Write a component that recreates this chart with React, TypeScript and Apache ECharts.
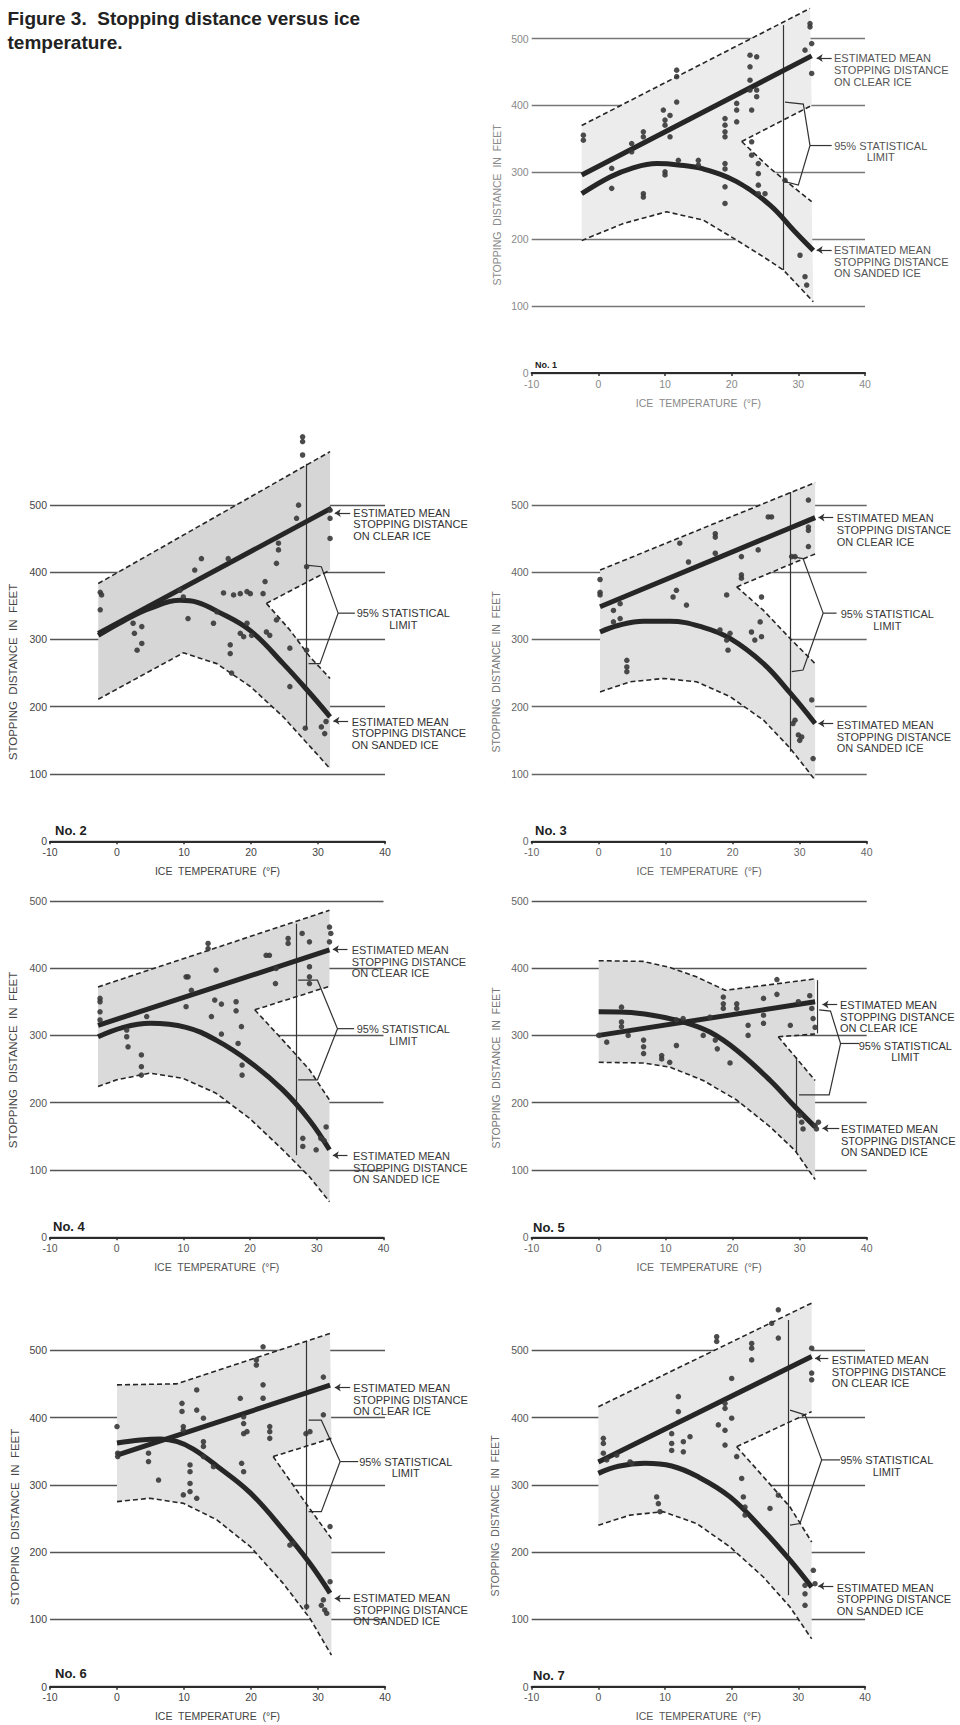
import React, { useEffect, useRef } from "react";
import * as echarts from "echarts";

type Pt = [number, number];

// ---------------- axis ticks / labels ----------------
const xMin = -10;
const xMax = 40;
const xStep = 10;
const yMin = 0;
const yMax = 500;
const yStep = 100;
const titleLines = ["Figure 3.  Stopping distance versus ice", "temperature."];
const panelNames = ["No. 1", "No. 2", "No. 3", "No. 4", "No. 5", "No. 6", "No. 7"];
const xAxisTitle = "ICE  TEMPERATURE  (°F)";
const yAxisTitle = "STOPPING  DISTANCE  IN  FEET";
const clearLabel = "ESTIMATED MEAN\nSTOPPING DISTANCE\nON CLEAR ICE";
const sandLabel = "ESTIMATED MEAN\nSTOPPING DISTANCE\nON SANDED ICE";
const statLabel = "95% STATISTICAL\nLIMIT";

// ---------------- panel 1 ----------------
const p1ClearMean: Pt[] = [[-2.5, 296], [32, 474]];
const p1SandMean: Pt[] = [[-2.5, 268], [1.75, 293], [5, 306], [8.75, 313], [12, 311], [15.75, 305], [20.75, 286], [25.75, 251], [29.5, 211], [32.25, 183]];
const p1Upper: Pt[] = [[-2.5, 370], [31.75, 545]];
const p1Lower: Pt[] = [[-2.5, 198], [3.75, 223.5], [10.25, 241], [15.75, 228.5], [20.75, 198.6], [24.75, 173.7], [27.75, 154], [32.25, 106.5]];
const p1WedgeTop: Pt[] = [[21.5, 346], [32, 400]];
const p1WedgeBot: Pt[] = [[21.5, 346], [25.75, 306], [32, 256]];
const p1Points: Pt[] = [[-2.25, 355.5], [-2.25, 348], [2, 306], [2, 276], [5, 343], [5, 330.6], [6.75, 360.5], [6.75, 353], [6.75, 268], [6.75, 263], [9.75, 393], [10, 378], [10, 370.5], [10.75, 385], [10.75, 353], [10, 300.7], [10, 296], [11.75, 452.7], [11.75, 443], [11.75, 405], [12, 318], [15, 318], [15, 310.7], [19, 380.4], [19, 370.5], [19, 360.5], [19, 353], [19, 313], [19, 305], [19, 278.3], [19, 253.4], [20.75, 403], [20.75, 393], [20.75, 375.5], [22.75, 475], [22.75, 457.7], [22.75, 437.7], [22.75, 423], [23, 393], [23, 345.6], [23, 325.6], [23.75, 472.6], [23.75, 423], [23.75, 413], [24, 313], [24, 298], [24, 280.8], [24, 268], [25, 268], [28, 288], [30.25, 176], [31, 482.6], [31, 144], [31.25, 131.4], [31.75, 522.4], [31.75, 517.4], [32, 492.5], [32, 447.7]];
const p1VLines: Pt[][] = [[[27.75, 520], [27.75, 154]]];
const p1Bracket: Pt[][] = [[[28, 405], [30.75, 402], [31.75, 340], [30, 281], [28, 286]], [[31.75, 340], [35, 340]]];
const p1Arrows: Pt[][] = [[[35, 471], [32.75, 471]], [[35, 184], [32.75, 184]]];

// ---------------- panel 2 ----------------
const p2ClearMean: Pt[] = [[-2.8, 309], [32, 495]];
const p2SandMean: Pt[] = [[-2.8, 306], [0.9, 327], [4.9, 346], [9.4, 358], [12, 355], [14.9, 342], [19.9, 313], [24.8, 264], [28.8, 220], [31.8, 185]];
const p2Upper: Pt[] = [[-2.8, 383], [31.8, 579]];
const p2Lower: Pt[] = [[-2.8, 211], [9.9, 280], [14.9, 264], [19.9, 230], [24.8, 185], [28.8, 141], [31.8, 108]];
const p2WedgeTop: Pt[] = [[22.3, 353.5], [31.8, 403]];
const p2WedgeBot: Pt[] = [[22.3, 353.5], [25.8, 314], [28.8, 274], [31.8, 242]];
const p2Points: Pt[] = [[-2.5, 370], [-2.3, 366], [-2.5, 344], [2.4, 324], [2.6, 309], [3, 284], [3.7, 294], [3.7, 319], [9.4, 373], [9.9, 363], [10.6, 331], [11.6, 403], [12.6, 420], [14.4, 324], [14.9, 341], [16.6, 420], [16.9, 292], [16.9, 279], [17.1, 250], [15.9, 369], [17.4, 366], [18.4, 368], [19.4, 371], [19.9, 368], [18.4, 309], [18.9, 304], [19.4, 324], [20.1, 306], [22.1, 386], [21.8, 368], [22.3, 311], [22.8, 306], [23.8, 329], [23.8, 413], [24.1, 433], [24.1, 443], [25.8, 287], [25.8, 230], [26.8, 480], [27.1, 499.5], [27.7, 574], [27.7, 594], [27.7, 601], [28.3, 408], [28.3, 284], [28.1, 168], [30.5, 170], [31, 160], [31.2, 178], [31.8, 480], [31.8, 450], [31.8, 492]];
const p2VLines: Pt[][] = [[[28.2, 561], [28.2, 168]]];
const p2Bracket: Pt[][] = [[[28.6, 410], [30.5, 408], [33, 339], [30.3, 264], [28.6, 264]], [[33, 339], [35.5, 339]]];
const p2Arrows: Pt[][] = [[[34.8, 488], [32.5, 488]], [[34.5, 179], [32.3, 179]]];

// ---------------- panel 3 ----------------
const p3ClearMean: Pt[] = [[0.2, 348.5], [32.3, 481]];
const p3SandMean: Pt[] = [[0.2, 311], [3, 321], [6.7, 327], [10.6, 327], [15.6, 318], [19.6, 301.5], [24.6, 264], [28.6, 220], [32.3, 175]];
const p3Upper: Pt[] = [[0.2, 403], [32.3, 533]];
const p3Lower: Pt[] = [[0.2, 222], [4.7, 237], [9.7, 242], [14.6, 237], [19.6, 215], [24.6, 180], [28.6, 138], [32.3, 91]];
const p3WedgeTop: Pt[] = [[20.6, 378], [32.3, 427]];
const p3WedgeBot: Pt[] = [[20.6, 378], [24.6, 343], [28.6, 301], [32.3, 264]];
const p3Points: Pt[] = [[0.2, 389], [0.2, 370], [0.2, 366], [2.2, 343], [3.2, 353], [2.2, 326], [3.2, 331], [4.2, 269], [4.2, 259], [4.2, 252], [11.1, 363], [11.6, 373], [12.1, 443], [13.4, 415], [13.1, 351], [17.4, 457], [17.4, 452], [17.4, 428], [19.1, 366], [18.1, 314], [19.1, 299], [19.3, 284], [19.6, 309], [21.3, 423], [21.3, 396], [21.3, 391], [22.8, 311], [23.3, 299], [24.1, 326], [24.3, 304], [23.8, 433], [24.3, 363], [25.3, 482], [25.8, 482], [28.8, 423], [29.3, 423], [29, 175], [29.3, 180], [29.8, 158], [30, 150], [30.3, 155], [31.3, 507], [31.3, 467], [31.3, 462], [31.3, 438], [31.8, 210], [32, 123]];
const p3VLines: Pt[][] = [[[28.6, 519], [28.6, 133]]];
const p3Bracket: Pt[][] = [[[28.8, 423], [30.5, 420], [33.5, 339], [30.5, 254.5], [28.8, 252]], [[33.5, 339], [35.5, 339]]];
const p3Arrows: Pt[][] = [[[35, 481], [32.8, 481]], [[35, 175], [32.8, 175]]];

// ---------------- panel 4 ----------------
const p4ClearMean: Pt[] = [[-2.8, 315], [31.9, 427]];
const p4SandMean: Pt[] = [[-2.8, 298], [1, 312], [5, 318], [10.4, 312], [14.9, 293], [19.9, 261], [24.9, 219], [28.9, 174], [31.9, 130]];
const p4Upper: Pt[] = [[-2.8, 372], [31.9, 486]];
const p4Lower: Pt[] = [[-2.8, 224], [0, 234], [5, 244], [10, 236], [14.9, 214], [19.9, 177], [24.9, 130], [28.9, 90], [31.9, 53]];
const p4WedgeTop: Pt[] = [[20.7, 338], [31.9, 373]];
const p4WedgeBot: Pt[] = [[20.7, 338], [24.9, 293], [28.9, 249], [31.9, 204]];
const p4Points: Pt[] = [[-2.5, 355], [-2.5, 350], [-2.5, 335], [-2.5, 323], [1.5, 308], [1.7, 283], [1.5, 298], [3.7, 271], [3.7, 253.5], [3.7, 241], [4.5, 328], [10.4, 387], [10.7, 387], [10.4, 342.6], [11.2, 367], [13.7, 436.6], [13.7, 429], [14.9, 397], [14.7, 352.5], [15.7, 346.5], [14.2, 328], [15.7, 302], [17.9, 350], [17.9, 336.6], [18.7, 313], [18.2, 288], [18.8, 256], [18.8, 241], [22.4, 419], [22.9, 419], [23.8, 377], [23.9, 399.5], [25.7, 444], [25.7, 436.6], [27.8, 451.5], [28.9, 439], [27.9, 147], [27.9, 135], [28.9, 402], [28.9, 387], [28.9, 377], [29.9, 130], [30.6, 147], [31.1, 143.5], [31.4, 164], [31.9, 461], [32.1, 451.5], [31.9, 439]];
const p4VLines: Pt[][] = [[[26.9, 466], [26.9, 122]]];
const p4Bracket: Pt[][] = [[[27.2, 382], [30.1, 382], [33.1, 310], [30.1, 234], [27.2, 234]], [[33.1, 310], [35.6, 310]]];
const p4Arrows: Pt[][] = [[[34.6, 428], [32.4, 428]], [[34.6, 122], [32.4, 122]]];

// ---------------- panel 5 ----------------
const p5ClearMean: Pt[] = [[0, 300], [32.3, 350]];
const p5SandMean: Pt[] = [[0, 335], [4, 334.5], [8, 330], [12.6, 320], [16.6, 305], [20.6, 278], [25.6, 233], [29.3, 194], [32.3, 164]];
const p5Upper: Pt[] = [[0, 411], [6.6, 410], [10.6, 401], [14.6, 387], [18.9, 367], [32.3, 384]];
const p5Lower: Pt[] = [[0, 260], [6.6, 259], [10.6, 253], [15.6, 233], [20.6, 204], [25.6, 164], [29.3, 129], [32.3, 86]];
const p5WedgeTop: Pt[] = [[26.8, 298], [32.3, 302]];
const p5WedgeBot: Pt[] = [[26.8, 298], [32.3, 233]];
const p5Points: Pt[] = [[0, 300], [1.2, 290], [3.4, 342], [3.4, 320], [3.4, 313], [4.4, 300], [6.7, 293], [6.7, 283], [6.7, 273], [9.4, 270], [9.4, 265], [10.6, 260], [11.6, 285], [11.6, 323], [12.6, 325], [15.6, 300], [16.6, 327], [17.4, 293], [17.7, 280], [18.6, 357], [18.6, 347], [18.6, 340], [19.6, 259], [20.6, 347], [20.6, 340], [22.3, 315], [22.3, 300], [24.6, 355], [24.6, 318], [24.6, 330], [26.6, 383], [26.6, 361], [28.6, 315], [29.8, 350], [30, 181], [30.3, 171], [30.5, 161], [31.5, 359], [31.8, 340], [32, 325], [32.3, 312], [32.3, 166], [32.5, 161], [32.8, 171]];
const p5VLines: Pt[][] = [[[29.55, 268], [29.55, 125]], [[32.6, 382], [32.6, 303]]];
const p5Bracket: Pt[][] = [[[32.9, 338], [34.6, 336], [36.1, 288], [34.4, 211.5], [29.9, 211.5]], [[36.1, 288], [38.9, 288]]];
const p5Arrows: Pt[][] = [[[35.6, 346], [33.4, 346]], [[35.9, 162], [33.4, 162]]];

// ---------------- panel 6 ----------------
const p6ClearMean: Pt[] = [[0, 344], [31.8, 448]];
const p6SandMean: Pt[] = [[0, 362], [3.5, 366.5], [6.5, 368], [9, 364], [11.4, 353], [14.9, 328], [19.9, 288], [24.8, 233], [28.8, 183], [31.8, 139]];
const p6Upper: Pt[] = [[0, 448.5], [8.9, 450], [31.8, 525]];
const p6Lower: Pt[] = [[0, 275], [4.9, 280], [9.9, 272.5], [14.9, 248], [19.9, 208], [24.8, 153.5], [28.8, 101.5], [32, 47]];
const p6WedgeTop: Pt[] = [[23.3, 342], [32, 369]];
const p6WedgeBot: Pt[] = [[23.3, 342], [27.3, 285], [32, 220]];
const p6Points: Pt[] = [[0, 386.5], [0.1, 347], [0.1, 342], [4.7, 347], [4.7, 334.5], [6.2, 307], [9.7, 421], [9.7, 409], [9.9, 386.5], [9.9, 381], [9.9, 285], [10.9, 329.5], [10.9, 319.5], [10.9, 302], [10.9, 290], [11.9, 280], [11.9, 441], [11.9, 411], [12.9, 399], [12.9, 364], [12.9, 357], [12.9, 342], [14.4, 327], [18.4, 428.5], [18.9, 401], [18.9, 391], [18.9, 376], [19.4, 379], [18.6, 332], [18.9, 319.5], [20.8, 485.6], [20.8, 478], [21.8, 505], [21.8, 448.5], [21.8, 428.6], [22.8, 386.5], [22.8, 379], [22.8, 369], [25.8, 210.5], [26.3, 213], [28.2, 376], [28.8, 379], [28.3, 119], [30.5, 121], [30.8, 129], [31, 114], [31.3, 109], [30.8, 404], [30.8, 460], [31.8, 156], [31.8, 238]];
const p6VLines: Pt[][] = [[[28.2, 513], [28.2, 114]]];
const p6Bracket: Pt[][] = [[[28.6, 396], [30.5, 396], [33.3, 334.5], [30.5, 260], [28.6, 260]], [[33.3, 334.5], [36, 334.5]]];
const p6Arrows: Pt[][] = [[[34.8, 444.5], [32.5, 444.5]], [[34.8, 131], [32.5, 131]]];

// ---------------- panel 7 ----------------
const p7ClearMean: Pt[] = [[0, 334], [32, 490.5]];
const p7SandMean: Pt[] = [[0, 317], [3, 327.5], [7, 332], [11, 328], [14.75, 313], [19.75, 282], [24.75, 232.5], [28.75, 188], [32, 148]];
const p7Upper: Pt[] = [[0, 416], [32, 570]];
const p7Lower: Pt[] = [[0, 240], [4.75, 255], [9.75, 260], [14.75, 242.5], [19.75, 207.7], [24.75, 163], [28.75, 118.4], [32, 71]];
const p7WedgeTop: Pt[] = [[20.75, 356.6], [32, 408.7]];
const p7WedgeBot: Pt[] = [[20.75, 356.6], [24.75, 312], [28.75, 267], [32, 215]];
const p7Points: Pt[] = [[0.75, 369], [0.75, 361.5], [0.75, 347], [1.25, 337], [2.75, 344], [4.75, 334], [5, 332], [8.75, 282], [9, 272], [9.25, 260], [11, 376], [11, 361.5], [11, 351], [12, 431], [12, 408.7], [12.75, 364], [12.75, 349], [13.75, 371.5], [17.75, 520], [17.75, 513], [18, 389], [19, 381], [19, 359], [19, 421], [19, 413.6], [20, 458], [20, 399], [20.75, 342], [21.5, 309.5], [21.75, 282], [22, 267], [22, 255], [23, 510], [23, 503], [23, 485.6], [25.75, 264.8], [26, 540], [27, 560], [27, 518], [27, 284.6], [31, 150.6], [31, 138], [31, 121], [32, 503], [32, 466], [32, 456], [32.25, 173], [32.5, 153]];
const p7VLines: Pt[][] = [[[28.5, 545], [28.5, 136]]];
const p7Bracket: Pt[][] = [[[28.75, 411], [31, 404], [33.5, 337], [30.25, 242.4], [28.75, 240]], [[33.5, 337], [36.25, 337]]];
const p7Arrows: Pt[][] = [[[34.5, 488], [32.5, 488]], [[35.25, 149.6], [33, 149.6]]];

const panelData = [
  { clearMean: p1ClearMean, sandMean: p1SandMean, upper: p1Upper, lower: p1Lower, wedgeTop: p1WedgeTop, wedgeBot: p1WedgeBot, points: p1Points, vlines: p1VLines, bracket: p1Bracket, arrows: p1Arrows },
  { clearMean: p2ClearMean, sandMean: p2SandMean, upper: p2Upper, lower: p2Lower, wedgeTop: p2WedgeTop, wedgeBot: p2WedgeBot, points: p2Points, vlines: p2VLines, bracket: p2Bracket, arrows: p2Arrows },
  { clearMean: p3ClearMean, sandMean: p3SandMean, upper: p3Upper, lower: p3Lower, wedgeTop: p3WedgeTop, wedgeBot: p3WedgeBot, points: p3Points, vlines: p3VLines, bracket: p3Bracket, arrows: p3Arrows },
  { clearMean: p4ClearMean, sandMean: p4SandMean, upper: p4Upper, lower: p4Lower, wedgeTop: p4WedgeTop, wedgeBot: p4WedgeBot, points: p4Points, vlines: p4VLines, bracket: p4Bracket, arrows: p4Arrows },
  { clearMean: p5ClearMean, sandMean: p5SandMean, upper: p5Upper, lower: p5Lower, wedgeTop: p5WedgeTop, wedgeBot: p5WedgeBot, points: p5Points, vlines: p5VLines, bracket: p5Bracket, arrows: p5Arrows },
  { clearMean: p6ClearMean, sandMean: p6SandMean, upper: p6Upper, lower: p6Lower, wedgeTop: p6WedgeTop, wedgeBot: p6WedgeBot, points: p6Points, vlines: p6VLines, bracket: p6Bracket, arrows: p6Arrows },
  { clearMean: p7ClearMean, sandMean: p7SandMean, upper: p7Upper, lower: p7Lower, wedgeTop: p7WedgeTop, wedgeBot: p7WedgeBot, points: p7Points, vlines: p7VLines, bracket: p7Bracket, arrows: p7Arrows },
];

// ---------------- layout & style (pixels) ----------------
const layouts = [
  { x0: 531.7, x1: 865, y0: 373, ppu: 0.669, shade: "#ececec", tick: "#8a8a8a", grid: "#777", text: "#555", name: "#8a8a8a", nameSize: 10.5, clear: [834, 58.3], sand: [834, 250], stat: [880.7, 145.7], yName: [496.7, 205], no: [535, 365], noSize: 9 },
  { x0: 50, x1: 385, y0: 841.3, ppu: 0.673, shade: "#d6d6d6", tick: "#444", grid: "#555", text: "#333", name: "#444", nameSize: 11.5, clear: [353.3, 512.7], sand: [351.7, 721.7], stat: [403.3, 613.3], yName: [13.3, 672], no: [55, 830], noSize: 13 },
  { x0: 531.7, x1: 866.7, y0: 841.3, ppu: 0.673, shade: "#e2e2e2", tick: "#666", grid: "#666", text: "#3a3a3a", name: "#777", nameSize: 10.5, clear: [836.7, 518.3], sand: [836.7, 725], stat: [887.3, 614], yName: [496, 672], no: [535, 830], noSize: 13 },
  { x0: 50, x1: 383.5, y0: 1237.3, ppu: 0.673, shade: "#dadada", tick: "#555", grid: "#555", text: "#3a3a3a", name: "#444", nameSize: 11.5, clear: [351.7, 950], sand: [353, 1156], stat: [403.3, 1029], yName: [12.7, 1060], no: [53, 1226], noSize: 13 },
  { x0: 531.7, x1: 866.7, y0: 1237.3, ppu: 0.673, shade: "#dcdcdc", tick: "#666", grid: "#555", text: "#333", name: "#777", nameSize: 10.5, clear: [840, 1005], sand: [841, 1129], stat: [905.3, 1045.7], yName: [496, 1068], no: [533, 1227], noSize: 13 },
  { x0: 50, x1: 385, y0: 1686.7, ppu: 0.673, shade: "#e2e2e2", tick: "#444", grid: "#555", text: "#333", name: "#444", nameSize: 11.5, clear: [353.3, 1388], sand: [353.3, 1598], stat: [405.7, 1461.7], yName: [15, 1517], no: [55, 1673], noSize: 13 },
  { x0: 531.7, x1: 865, y0: 1686.7, ppu: 0.673, shade: "#e8e8e8", tick: "#555", grid: "#555", text: "#333", name: "#666", nameSize: 10.5, clear: [831.7, 1360], sand: [836.7, 1587.7], stat: [886.7, 1460], yName: [495, 1516], no: [533, 1675], noSize: 13 },
];

const FONT = '"Liberation Sans", Arial, Helvetica, sans-serif';
const INK = "#262626";

function textEl(x: number, y: number, text: string, opts: any = {}) {
  const align = opts.align || "left";
  const valign = opts.valign || "middle";
  return {
    type: "text",
    x,
    y,
    rotation: opts.rotation || 0,
    silent: true,
    z: 50,
    style: {
      text,
      fill: opts.fill || "#333",
      fontSize: opts.size || 11,
      fontFamily: FONT,
      fontWeight: opts.weight || "normal",
      lineHeight: opts.lineHeight || 11.7,
      align,
      verticalAlign: valign,
      textAlign: align,
      textVerticalAlign: valign,
    },
  };
}

function buildOption() {
  const grid: any[] = [];
  const xAxis: any[] = [];
  const yAxis: any[] = [];
  const series: any[] = [];
  const graphic: any[] = [];

  graphic.push(textEl(7.5, 18.5, titleLines[0], { size: 19, weight: "bold", fill: "#222" }));
  graphic.push(textEl(7.5, 42.5, titleLines[1], { size: 19, weight: "bold", fill: "#222" }));

  panelData.forEach((d, i) => {
    const L = layouts[i];
    const h = (yMax - yMin) * L.ppu;
    grid.push({
      left: L.x0,
      top: L.y0 - h,
      width: L.x1 - L.x0,
      height: h,
      containLabel: false,
      outerBoundsMode: "none",
    });
    xAxis.push({
      type: "value",
      gridIndex: i,
      min: xMin,
      max: xMax,
      interval: xStep,
      name: xAxisTitle,
      nameLocation: "middle",
      nameGap: 24,
      nameTextStyle: { color: L.tick, fontSize: 10.5, fontFamily: FONT },
      axisLine: { show: true, onZero: false, lineStyle: { color: "#2b2b2b", width: 2.2 } },
      axisTick: { show: true, inside: false, length: 3, lineStyle: { color: "#2b2b2b", width: 1.5 } },
      axisLabel: { show: true, color: L.tick, fontSize: 10.5, fontFamily: FONT, margin: 5 },
      splitLine: { show: false },
    });
    yAxis.push({
      type: "value",
      gridIndex: i,
      min: yMin,
      max: yMax,
      interval: yStep,
      axisLine: { show: false },
      axisTick: { show: false },
      axisLabel: { show: true, color: L.tick, fontSize: 10.5, fontFamily: FONT, margin: 3 },
      splitLine: { show: true, lineStyle: { color: L.grid, width: 1.3 } },
    });

    const common = { xAxisIndex: i, yAxisIndex: i, silent: true, animation: false };

    // shaded 95% band (union of both bands, wedge cut out)
    const poly: Pt[] = [
      ...d.upper,
      ...d.wedgeTop.slice().reverse(),
      ...d.wedgeBot,
      ...d.lower.slice().reverse(),
    ];
    series.push({
      ...common,
      type: "custom",
      z: 1,
      clip: false,
      data: [[0, 0]],
      renderItem: (_p: any, api: any) => ({
        type: "polygon",
        shape: { points: poly.map((p) => api.coord(p)) },
        style: { fill: L.shade },
      }),
    });

    const dashed = { color: INK, width: 1.6, type: [5, 3] };
    [d.upper, d.lower, d.wedgeTop, d.wedgeBot].forEach((arr) => {
      series.push({ ...common, type: "line", z: 3, clip: false, symbol: "none", data: arr, lineStyle: dashed });
    });

    series.push({ ...common, type: "line", z: 4, clip: false, symbol: "none", data: d.clearMean, lineStyle: { color: INK, width: 5 } });
    series.push({ ...common, type: "line", z: 4, clip: false, symbol: "none", smooth: 0.4, data: d.sandMean, lineStyle: { color: INK, width: 5 } });

    series.push({
      ...common,
      type: "lines",
      coordinateSystem: "cartesian2d",
      z: 3,
      clip: false,
      data: d.vlines.map((c) => ({ coords: c })),
      lineStyle: { color: "#333", width: 1.2, opacity: 1 },
    });
    series.push({
      ...common,
      type: "lines",
      coordinateSystem: "cartesian2d",
      polyline: true,
      z: 3,
      clip: false,
      data: d.bracket.map((c) => ({ coords: c })),
      lineStyle: { color: "#333", width: 1.2, opacity: 1 },
    });
    series.push({
      ...common,
      type: "lines",
      coordinateSystem: "cartesian2d",
      z: 3,
      clip: false,
      symbol: ["none", "arrow"],
      symbolSize: 6,
      data: d.arrows.map((c) => ({ coords: c })),
      lineStyle: { color: "#333", width: 1.2, opacity: 1 },
    });

    series.push({
      ...common,
      type: "scatter",
      z: 5,
      clip: false,
      symbol: "circle",
      symbolSize: 5.5,
      data: d.points,
      itemStyle: { color: "#383838", opacity: 0.9 },
    });

    // texts
    graphic.push(textEl(L.yName[0], L.yName[1], yAxisTitle, { rotation: Math.PI / 2, align: "center", size: L.nameSize, fill: L.name }));
    graphic.push(textEl(L.no[0], L.no[1], panelNames[i], { size: L.noSize, weight: "bold", fill: "#222" }));
    graphic.push(textEl(L.clear[0], L.clear[1] - 5.85, clearLabel, { size: 11, fill: L.text, valign: "top" }));
    graphic.push(textEl(L.sand[0], L.sand[1] - 5.85, sandLabel, { size: 11, fill: L.text, valign: "top" }));
    graphic.push(textEl(L.stat[0], L.stat[1] - 5.85, statLabel, { size: 11, fill: L.text, valign: "top", align: "center" }));
  });

  return {
    animation: false,
    backgroundColor: "#ffffff",
    grid,
    xAxis,
    yAxis,
    series,
    graphic: { elements: graphic },
  };
}

export default function App() {
  const ref = useRef<HTMLDivElement>(null);
  useEffect(() => {
    if (!ref.current) return;
    const chart = echarts.init(ref.current, undefined, { renderer: "svg" });
    chart.setOption(buildOption() as any);
    return () => chart.dispose();
  }, []);
  return (
    <div
      ref={ref}
      style={{ position: "absolute", left: 0, top: 0, width: 960, height: 1725, background: "#fff" }}
    />
  );
}
